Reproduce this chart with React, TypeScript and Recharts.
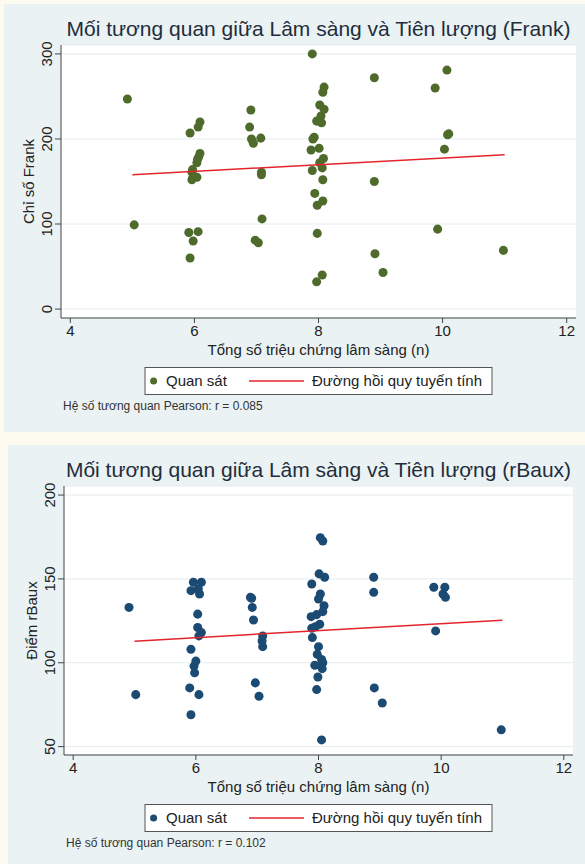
import { ScatterChart, Scatter, XAxis, YAxis, CartesianGrid } from "recharts";

const FONT = '"Liberation Sans", Arial, sans-serif';

const symptomTicks = [4, 6, 8, 10, 12];
const frankTicks = [0, 100, 200, 300];
const rbauxTicks = [50, 100, 150, 200];

// Frank index vs number of clinical symptoms (jittered x as in the picture)
const frankSymptoms = [
  4.92, 5.03, 5.93, 6.09, 6.06, 6.09, 6.07, 6.05, 6.04, 5.97, 5.96, 5.98, 6.04, 5.96, 5.91, 6.06, 5.98, 5.93,
  6.91, 6.89, 6.92, 6.95, 7.07, 7.08, 7.08, 7.09, 6.98, 7.03,
  7.9, 8.09, 8.07, 8.02, 8.09, 8.04, 8.05, 7.97, 7.93, 7.91, 7.88, 8.01, 8.08, 8.02, 8.06, 7.9, 8.07, 7.94, 7.98,
  8.07, 7.98, 8.06, 7.97,
  8.9, 8.9, 8.91, 9.04, 10.07, 9.88, 10.08, 10.1, 10.03, 9.92, 10.98,
];
const frankScores = [
  247, 99, 207, 220, 214, 183, 179, 176, 172, 164, 161, 156, 155, 152, 90, 91, 80, 60,
  234, 214, 200, 195, 201, 161, 158, 106, 81, 78,
  300, 261, 255, 240, 235, 227, 219, 221, 202, 200, 187, 189, 177, 172, 166, 163, 152, 136, 122,
  127, 89, 40, 32,
  272, 150, 65, 43, 281, 260, 205, 206, 188, 94, 69,
];
const frankFitX = [5, 11];
const frankFitY = [158, 181.5];

// rBaux score vs number of clinical symptoms
const rbauxSymptoms = [
  4.91, 5.02, 5.96, 6.09, 5.92, 6.04, 6.06, 6.03, 6.03, 6.09, 6.05, 5.92, 6.0, 5.97, 5.98, 5.9, 6.05, 5.92,
  6.89, 6.91, 6.92, 6.94, 7.09, 7.08, 7.09, 6.97, 7.03,
  8.03, 8.07, 8.01, 8.1, 7.89, 8.03, 8.0, 8.09, 8.07, 7.97, 7.88, 8.02, 7.95, 7.89, 7.9, 8.0, 7.98, 8.05, 8.07,
  8.06, 7.94, 7.99, 7.97, 8.05,
  8.9, 8.9, 8.91, 9.04, 9.88, 10.06, 10.03, 10.07, 9.91, 10.98,
];
const rbauxScores = [
  133, 81, 148, 148, 143, 144, 141, 129, 121, 118, 116, 108, 101, 98, 94, 85, 81, 69,
  139, 138.5, 133, 125.5, 116, 113, 109.6, 88, 80,
  174.6, 172.6, 153, 151, 147, 141, 138, 134, 130.5, 128.7, 127.5, 123, 121.5, 120.6, 115, 109.6, 105, 102, 100,
  96.5, 98.5, 91.5, 84, 54,
  151, 142, 85, 76, 145, 145, 141, 139, 119, 60,
];
const rbauxFitX = [5, 11];
const rbauxFitY = [112.9, 125.4];

const zip = (xs: number[], ys: number[]) => xs.map((x, i) => ({ x, y: ys[i] }));

type PanelProps = {
  left: number;
  top: number;
  width: number;
  height: number;
  plot: { left: number; top: number; right: number; bottom: number };
  title: string;
  yLabel: string;
  note: string;
  color: string;
  xs: number[];
  ys: number[];
  fitX: number[];
  fitY: number[];
  yDomain: [number, number];
  yTicks: number[];
};

const RotatedTick = (props: any) => {
  const { x, y, payload } = props;
  return (
    <text
      x={x}
      y={y}
      transform={`rotate(-90 ${x} ${y})`}
      textAnchor="middle"
      fontSize={15}
      fontFamily={FONT}
      fill="#222"
    >
      {payload.value}
    </text>
  );
};

const Panel = (p: PanelProps) => {
  const { plot } = p;
  const cx = (plot.left + plot.right) / 2;
  const cy = (plot.top + plot.bottom) / 2;
  const boxW = 347;
  const boxL = cx - boxW / 2;
  const boxT = plot.bottom + 49.5;
  const boxH = 27;
  const points = zip(p.xs, p.ys);
  const fit = zip(p.fitX, p.fitY);

  return (
    <div
      style={{
        position: "absolute",
        left: p.left,
        top: p.top,
        width: p.width,
        height: p.height,
        background: "#eaf2f3",
      }}
    >
      <ScatterChart
        width={p.width}
        height={p.height}
        margin={{ top: plot.top, right: p.width - plot.right, bottom: 0, left: 0 }}
      >
        <CartesianGrid vertical={false} stroke="#e3ecee" fill="#ffffff" />
        <XAxis
          type="number"
          dataKey="x"
          domain={[3.85, 12.15]}
          ticks={symptomTicks}
          height={p.height - plot.bottom}
          tickSize={5}
          tickMargin={2}
          stroke="#444"
          tick={{ fontSize: 15, fill: "#222", fontFamily: FONT }}
        />
        <YAxis
          type="number"
          dataKey="y"
          domain={p.yDomain}
          ticks={p.yTicks}
          width={plot.left}
          tickSize={6}
          tickMargin={3}
          stroke="#444"
          tick={<RotatedTick />}
        />
        <Scatter data={points} fill={p.color} isAnimationActive={false} shape="circle" />
        <Scatter
          data={fit}
          line={{ stroke: "#e3262c", strokeWidth: 1.5 }}
          shape={() => <g />}
          isAnimationActive={false}
        />
      </ScatterChart>

      <svg
        width={p.width}
        height={p.height}
        style={{ position: "absolute", left: 0, top: 0, pointerEvents: "none" }}
        fontFamily={FONT}
      >
        <text x={cx} y={plot.top - 9} textAnchor="middle" fontSize={21} fill="#1f2d3d">
          {p.title}
        </text>
        <text
          x={plot.left - 27}
          y={cy}
          transform={`rotate(-90 ${plot.left - 27} ${cy})`}
          textAnchor="middle"
          fontSize={15}
          fill="#222"
        >
          {p.yLabel}
        </text>
        <text x={cx} y={plot.bottom + 37} textAnchor="middle" fontSize={15} fill="#222">
          Tổng số triệu chứng lâm sàng (n)
        </text>
        <rect x={boxL} y={boxT} width={boxW} height={boxH} fill="#fff" stroke="#555" strokeWidth={1} />
        <circle cx={boxL + 8.6} cy={boxT + boxH / 2} r={3.5} fill={p.color} />
        <text x={boxL + 21} y={boxT + boxH / 2 + 5.3} fontSize={15} fill="#222">
          Quan sát
        </text>
        <line
          x1={boxL + 104}
          x2={boxL + 159}
          y1={boxT + boxH / 2}
          y2={boxT + boxH / 2}
          stroke="#e3262c"
          strokeWidth={1.5}
        />
        <text x={boxL + 167} y={boxT + boxH / 2 + 5.3} fontSize={15} fill="#222">
          Đường hồi quy tuyến tính
        </text>
        <text x={plot.left + 2} y={plot.bottom + 92} fontSize={12} fill="#333">
          {p.note}
        </text>
      </svg>
    </div>
  );
};

export default function App() {
  return (
    <div
      style={{
        position: "relative",
        width: 585,
        height: 864,
        background: "#fdfbef",
        overflow: "hidden",
      }}
    >
      <style>{"body{margin:0}"}</style>
      <Panel
        left={4}
        top={4}
        width={581}
        height={428}
        plot={{ left: 57, top: 41, right: 572, bottom: 314 }}
        title="Mối tương quan giữa Lâm sàng và Tiên lượng (Frank)"
        yLabel="Chỉ số Frank"
        note="Hệ số tương quan Pearson: r = 0.085"
        color="#4f6b2c"
        xs={frankSymptoms}
        ys={frankScores}
        fitX={frankFitX}
        fitY={frankFitY}
        yDomain={[-10.5, 310.5]}
        yTicks={frankTicks}
      />
      <Panel
        left={8}
        top={445}
        width={577}
        height={419}
        plot={{ left: 56, top: 41, right: 565, bottom: 310 }}
        title="Mối tương quan giữa Lâm sàng và Tiên lượng (rBaux)"
        yLabel="Điểm rBaux"
        note="Hệ số tương quan Pearson: r = 0.102"
        color="#1b4a72"
        xs={rbauxSymptoms}
        ys={rbauxScores}
        fitX={rbauxFitX}
        fitY={rbauxFitY}
        yDomain={[45, 205.4]}
        yTicks={rbauxTicks}
      />
    </div>
  );
}
